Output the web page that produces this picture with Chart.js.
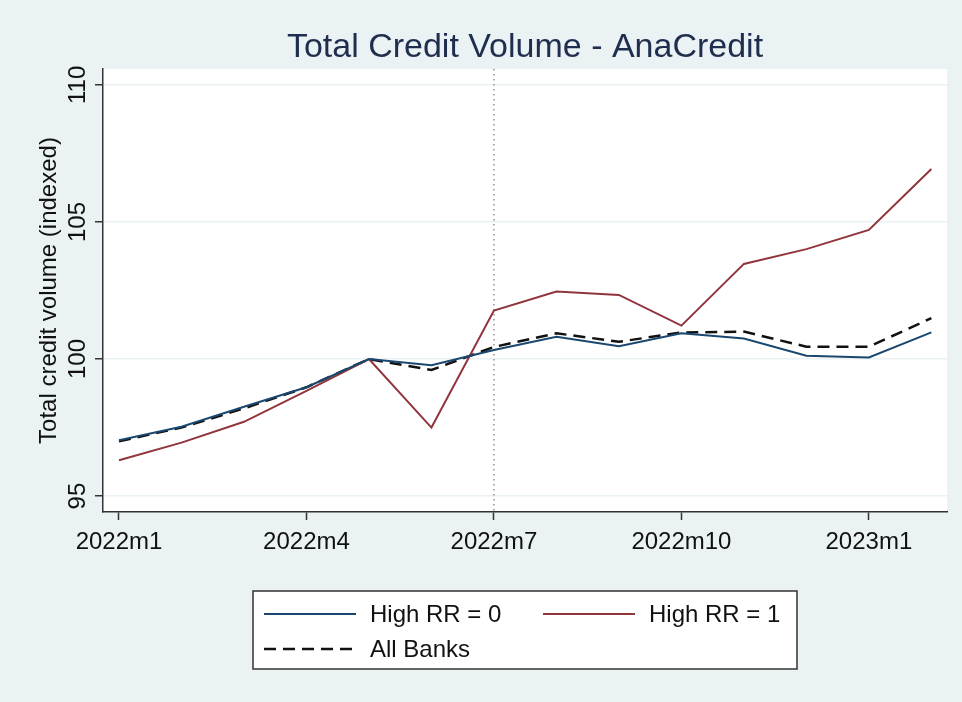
<!DOCTYPE html>
<html>
<head>
<meta charset="utf-8">
<script src="https://cdn.jsdelivr.net/npm/chart.js@4/dist/chart.umd.min.js"></script>
<style>
  html, body { margin: 0; padding: 0; background: #eaf2f3; }
  canvas { display: block; }
</style>
</head>
<body>
<canvas id="creditChart" width="962" height="702"></canvas>
<script>
// data
const months = ["2022m1", "2022m2", "2022m3", "2022m4", "2022m5", "2022m6", "2022m7",
  "2022m8", "2022m9", "2022m10", "2022m11", "2022m12", "2023m1", "2023m2"];
const highRR0 = [97.04, 97.53, 98.26, 98.97, 100.0, 99.77, 100.33, 100.81, 100.47, 100.94, 100.75, 100.12, 100.06, 100.97];
const highRR1 = [96.31, 96.95, 97.71, 98.84, 100.0, 97.50, 101.77, 102.46, 102.34, 101.22, 103.47, 104.01, 104.71, 106.93];
const allBanks = [97.0, 97.50, 98.20, 98.97, 100.0, 99.60, 100.44, 100.94, 100.63, 100.97, 101.0, 100.45, 100.45, 101.49];
const xTickMonths = ["2022m1", "2022m4", "2022m7", "2022m10", "2023m1"];
const yTicks = [95, 100, 105, 110];
const eventMonth = "2022m7";

const FONT = "'Liberation Sans', Arial, sans-serif";
const BG = "#eaf2f3";
const BLUE = "#1a476f";
const RED = "#90353b";
const TXT = "#111";

const toPoints = arr => arr.map((v, i) => ({ x: i, y: v }));

// backgrounds, title, rotated y labels, event line, legend box
const stataLook = {
  id: "stataLook",
  beforeDraw(chart) {
    const { ctx, chartArea: a } = chart;
    ctx.save();
    ctx.fillStyle = BG;
    ctx.fillRect(0, 0, chart.width, chart.height);
    ctx.fillStyle = "#fff";
    ctx.fillRect(a.left, a.top, a.right - a.left, a.bottom - a.top);
    ctx.restore();
  },
  beforeDatasetsDraw(chart) {
    const { ctx, chartArea: a, scales: { x } } = chart;
    const px = x.getPixelForValue(months.indexOf(eventMonth));
    ctx.save();
    ctx.strokeStyle = "#777";
    ctx.lineWidth = 1.2;
    ctx.setLineDash([1.5, 3.5]);
    ctx.beginPath();
    ctx.moveTo(px, a.top);
    ctx.lineTo(px, a.bottom);
    ctx.stroke();
    ctx.restore();
  },
  afterDraw(chart) {
    const { ctx, chartArea: a, scales: { y } } = chart;
    ctx.save();
    // title
    ctx.fillStyle = "#1f2d4f";
    ctx.font = "34px " + FONT;
    ctx.textAlign = "center";
    ctx.textBaseline = "middle";
    ctx.fillText("Total Credit Volume - AnaCredit", (a.left + a.right) / 2, 48);

    // y tick labels, vertical like Stata
    ctx.fillStyle = TXT;
    ctx.font = "24px " + FONT;
    yTicks.forEach(v => {
      ctx.save();
      ctx.translate(78, y.getPixelForValue(v));
      ctx.rotate(-Math.PI / 2);
      ctx.fillText(String(v), 0, 0);
      ctx.restore();
    });
    // y axis title
    ctx.save();
    ctx.translate(49, (a.top + a.bottom) / 2);
    ctx.rotate(-Math.PI / 2);
    ctx.fillText("Total credit volume (indexed)", 0, 0);
    ctx.restore();

    // legend
    const bx = 253, by = 591, bw = 544, bh = 78;
    ctx.fillStyle = "#fff";
    ctx.fillRect(bx, by, bw, bh);
    ctx.strokeStyle = "#333";
    ctx.lineWidth = 1.5;
    ctx.strokeRect(bx, by, bw, bh);
    const items = chart.data.datasets.map((ds, i) => ({
      ds, x: i === 1 ? 543 : 264, y: i === 2 ? 649 : 614
    }));
    items.forEach(({ ds, x, y: ly }) => {
      ctx.strokeStyle = ds.borderColor;
      ctx.lineWidth = ds.borderWidth;
      ctx.setLineDash(ds.borderDash || []);
      ctx.beginPath();
      ctx.moveTo(x, ly);
      ctx.lineTo(x + 92, ly);
      ctx.stroke();
      ctx.setLineDash([]);
      ctx.fillStyle = TXT;
      ctx.textAlign = "left";
      ctx.fillText(ds.label, x + 106, ly + 1);
    });
    ctx.restore();
  }
};

new Chart(document.getElementById("creditChart"), {
  type: "line",
  data: {
    datasets: [
      { label: "High RR = 0", data: toPoints(highRR0), borderColor: BLUE, borderWidth: 2 },
      { label: "High RR = 1", data: toPoints(highRR1), borderColor: RED, borderWidth: 2 },
      { label: "All Banks", data: toPoints(allBanks), borderColor: "#111", borderWidth: 2.5, borderDash: [12, 7] }
    ]
  },
  options: {
    responsive: false,
    animation: false,
    devicePixelRatio: 1,
    layout: { padding: { top: 69, right: 15, left: 0, bottom: 0 } },
    elements: { point: { radius: 0 }, line: { tension: 0, fill: false } },
    plugins: { legend: { display: false }, tooltip: { enabled: false }, title: { display: false } },
    scales: {
      x: {
        type: "linear",
        min: -0.256,
        max: 13.25,
        afterBuildTicks: s => { s.ticks = xTickMonths.map(m => ({ value: months.indexOf(m) })); },
        afterFit: s => { s.height = 190; },
        ticks: {
          callback: v => months[v],
          font: { family: FONT, size: 24 },
          color: TXT,
          padding: 8,
          maxRotation: 0
        },
        grid: { drawOnChartArea: false, tickLength: 8, tickColor: "#333", tickWidth: 1.5 },
        border: { color: "#333", width: 1.5 }
      },
      y: {
        min: 94.42,
        max: 110.58,
        afterBuildTicks: s => { s.ticks = yTicks.map(v => ({ value: v })); },
        afterFit: s => { s.width = 103; },
        ticks: { display: false },
        grid: { color: BG, lineWidth: 1.5, tickLength: 8, tickColor: "#333", tickWidth: 1.5 },
        border: { color: "#333", width: 1.5 }
      }
    }
  },
  plugins: [stataLook]
});
</script>
</body>
</html>
